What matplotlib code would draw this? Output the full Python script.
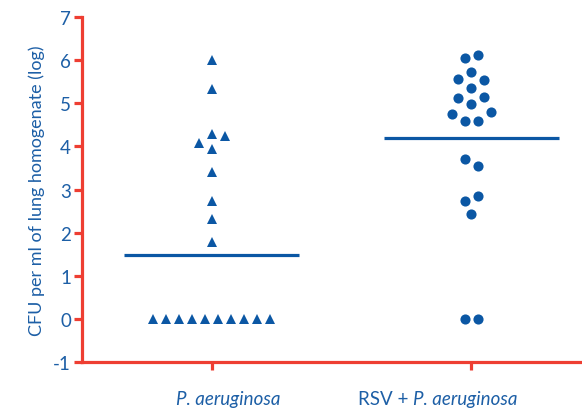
import matplotlib
matplotlib.use("Agg")
import matplotlib.pyplot as plt
import numpy as np

plt.rcParams['font.family'] = ['Lato', 'DejaVu Sans']
plt.rcParams['axes.unicode_minus'] = False

# CFU counts (log10 per ml of lung homogenate)
pa_values = [6.0, 5.33, 4.28, 4.25, 4.08, 3.94, 3.40, 2.74, 2.32, 1.78,
             0, 0, 0, 0, 0, 0, 0, 0, 0, 0]
pa_slots = [0, 0, 0, 1, -1, 0, 0, 0, 0, 0,
            -4.5, -3.5, -2.5, -1.5, -0.5, 0.5, 1.5, 2.5, 3.5, 4.5]
rsv_values = [6.06, 6.11, 5.72, 5.57, 5.55, 5.35, 5.12, 5.14, 4.98, 4.76,
              4.81, 4.58, 4.59, 3.70, 3.54, 2.74, 2.85, 2.43, 0, 0]
rsv_slots = [-0.5, 0.5, 0, -1, 1, 0, -1, 1, 0, -1.5,
             1.5, -0.5, 0.5, -0.5, 0.5, -0.5, 0.5, 0, -0.5, 0.5]
group_lines = [1.48, 4.19]
yticks = [-1, 0, 1, 2, 3, 4, 5, 6, 7]

blue = '#0b57a4'
text_blue = '#1d5fa6'
red = '#ee3e32'
slot = 0.05

fig = plt.figure(figsize=(5.82, 4.10), dpi=100)
ax = fig.add_axes([0.141, 0.114, 0.859, 0.842])

ax.plot(1 + np.array(pa_slots) * slot, pa_values, linestyle='none',
        marker='^', markersize=7.5, color=blue, markeredgewidth=0)
ax.plot(2 + np.array(rsv_slots) * slot, rsv_values, linestyle='none',
        marker='o', markersize=7.3, color=blue, markeredgewidth=0)

for pos, val in zip([1, 2], group_lines):
    ax.hlines(val, pos - 0.338, pos + 0.338, color=blue, linewidth=2.3)

ax.set_xlim(0.5, 2.427)
ax.set_ylim(-1, 7)
ax.set_yticks(yticks)
ax.set_xticks([1, 2])
ax.set_xticklabels(['', ''])

# group names (species name in italics)
label_y = -1.85
ax.text(1.065, label_y, 'P. aeruginosa', style='italic', ha='center',
        va='center', fontsize=13.5, color=text_blue)
prefix = ax.text(1.562, label_y, 'RSV + ', ha='left', va='center',
                 fontsize=13.5, color=text_blue)
ax.annotate('P. aeruginosa', xy=(1, 0.5), xycoords=prefix, style='italic',
            ha='left', va='center', fontsize=13.5, color=text_blue)

for side in ['top', 'right']:
    ax.spines[side].set_visible(False)
for side in ['left', 'bottom']:
    ax.spines[side].set_color(red)
    ax.spines[side].set_linewidth(2.3)

ax.tick_params(axis='both', colors=red, width=2.3, length=6, direction='out')
ax.tick_params(axis='y', labelcolor=text_blue, labelsize=13.5, pad=2)

ax.set_ylabel('CFU per ml of lung homogenate (log)', fontsize=13,
              color=text_blue, labelpad=6)

fig.savefig('out.png', dpi=100)
